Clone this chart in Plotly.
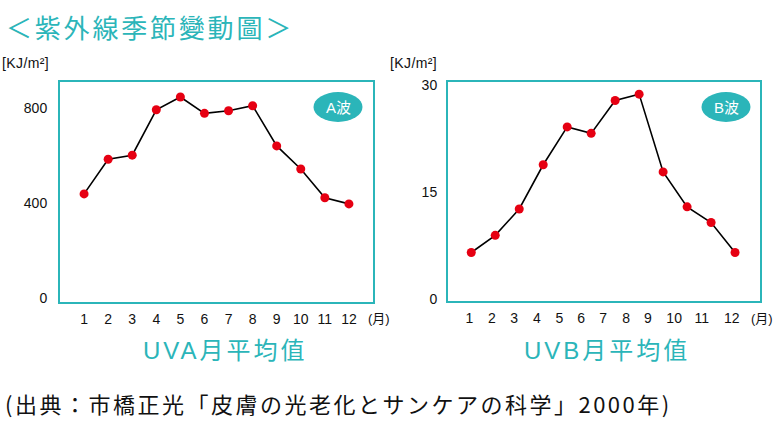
import plotly.graph_objects as go

months = list(range(1, 13))
month_labels = [str(m) for m in months]
uva = [438, 584, 601, 792, 846, 777, 788, 809, 640, 543, 422, 396]
uvb = [6.5, 8.9, 12.6, 18.8, 24.1, 23.2, 27.8, 28.7, 17.8, 12.9, 10.7, 6.5]
uva_ticks = [0, 400, 800]
uvb_ticks = [0, 15, 30]

TEAL = "#2bb5b9"
RED = "#e60012"
W, H = 776, 427
FONT = "Liberation Sans, Noto Sans CJK JP, sans-serif"
CJK = "Noto Sans CJK JP, sans-serif"

def px(x):
    return x / W

def py(y):
    return 1 - y / H

def spaced(text, sp):
    return f'<span style="letter-spacing:{sp}px">{text}</span>'

fig = go.Figure()
fig.add_trace(go.Scatter(x=months, y=uva, mode="lines+markers",
                         line=dict(color="black", width=1.6),
                         marker=dict(color=RED, size=9),
                         xaxis="x", yaxis="y", showlegend=False))
fig.add_trace(go.Scatter(x=months, y=uvb, mode="lines+markers",
                         line=dict(color="black", width=1.6),
                         marker=dict(color=RED, size=9),
                         xaxis="x2", yaxis="y2", showlegend=False))

# B chart tick labels sit slightly off the points in the original artwork
b_tick_pos = [0.92, 1.86, 2.79, 3.74, 4.67, 5.58, 6.5, 7.46, 8.36, 9.46, 10.61, 11.86]

axis_common = dict(showline=True, mirror=True, linecolor=TEAL, linewidth=2,
                   showgrid=False, zeroline=False, ticks="outside",
                   tickcolor="rgba(0,0,0,0)", automargin=False,
                   tickfont=dict(family=FONT, size=14, color="#111"))

fig.update_layout(
    width=W, height=H, margin=dict(l=0, r=0, t=0, b=0, autoexpand=False),
    paper_bgcolor="white", plot_bgcolor="white",
    xaxis=dict(domain=[px(60), px(373)], range=[0, 13], tickvals=months,
               ticktext=month_labels, ticklen=3, anchor="y", **axis_common),
    yaxis=dict(domain=[py(302), py(82)], range=[-17, 909], tickvals=uva_ticks,
               ticklen=8, anchor="x", **axis_common),
    xaxis2=dict(domain=[px(448), px(760)], range=[0.03, 13.04], tickvals=b_tick_pos,
                ticktext=month_labels, ticklen=3, anchor="y2", **axis_common),
    yaxis2=dict(domain=[py(301), py(82)], range=[-0.3, 30.4], tickvals=uvb_ticks,
                ticklen=6, anchor="x2", **axis_common),
)

# badges
for cx, cy, label in [(338, 107, "A波"), (726, 107, "B波")]:
    fig.add_shape(type="circle", xref="paper", yref="paper",
                  x0=px(cx - 24.5), x1=px(cx + 24.5), y0=py(cy + 15), y1=py(cy - 15),
                  fillcolor=TEAL, line=dict(width=0), layer="above")
    fig.add_annotation(x=px(cx), y=py(cy), xref="paper", yref="paper", text=label,
                       xanchor="center", yanchor="middle",
                       showarrow=False, font=dict(family=FONT, size=15, color="white"))

ann = []
ann.append(dict(x=px(4), y=py(27), text=spaced("＜紫外線季節變動圖＞", 2.8), xanchor="left",
                font=dict(family=CJK, size=26, color=TEAL)))
for x0 in [0, 388]:
    ann.append(dict(x=px(x0), y=py(63), text=spaced("[KJ/m²]", 0.4), xanchor="left",
                    font=dict(family=FONT, size=14, color="#111")))
for x0 in [379, 762]:
    ann.append(dict(x=px(x0), y=py(318), text="(月)", xanchor="center",
                    font=dict(family=FONT, size=13, color="#111")))
ann.append(dict(x=px(225), y=py(350), text=spaced("UVA月平均值", 3), xanchor="center",
                font=dict(family=FONT, size=24, color=TEAL)))
ann.append(dict(x=px(607), y=py(350), text=spaced("UVB月平均值", 3), xanchor="center",
                font=dict(family=FONT, size=24, color=TEAL)))
ann.append(dict(x=px(3), y=py(403), xanchor="left",
                text=spaced("(出典：市橋正光「皮膚の光老化とサンケアの科学」2000年)", 2.5),
                font=dict(family=CJK, size=22, color="#111")))
for a in ann:
    fig.add_annotation(xref="paper", yref="paper", showarrow=False,
                       yanchor="middle", **a)

fig.write_html("out.html", config={"displayModeBar": False},
               post_script="document.body.style.margin='0';document.body.style.overflow='hidden';")
